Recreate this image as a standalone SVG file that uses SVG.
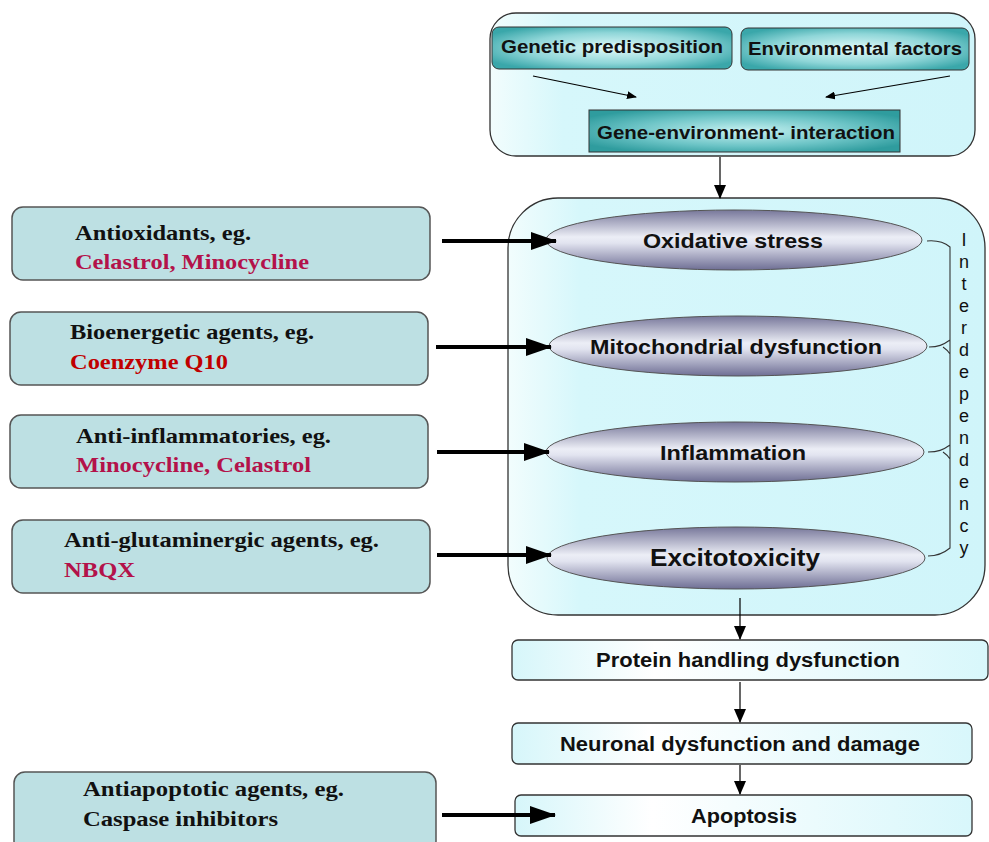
<svg xmlns="http://www.w3.org/2000/svg" width="989" height="842" viewBox="0 0 989 842">
<defs>
<linearGradient id="outerG" x1="0" y1="0" x2="1" y2="0">
<stop offset="0" stop-color="#f2fdfd"/><stop offset="0.15" stop-color="#d6f7fb"/><stop offset="1" stop-color="#d0f5fa"/>
</linearGradient>
<radialGradient id="tealG" cx="0.5" cy="0.5" r="0.6">
<stop offset="0" stop-color="#e2fafa"/><stop offset="0.6" stop-color="#8fd6d8"/><stop offset="1" stop-color="#3aa7aa"/>
</radialGradient>
<radialGradient id="tealG2" cx="0.5" cy="0.5" r="0.6">
<stop offset="0" stop-color="#c8f2f2"/><stop offset="0.6" stop-color="#6cc4c6"/><stop offset="1" stop-color="#2f9c9e"/>
</radialGradient>
<linearGradient id="ellG" x1="0" y1="0" x2="0" y2="1">
<stop offset="0" stop-color="#77779a"/><stop offset="0.45" stop-color="#eceef6"/><stop offset="0.55" stop-color="#e2e4f0"/><stop offset="1" stop-color="#6e6e94"/>
</linearGradient>
<linearGradient id="stepG" x1="0" y1="0" x2="1" y2="0">
<stop offset="0" stop-color="#d6f6fa"/><stop offset="0.3" stop-color="#ffffff"/><stop offset="1" stop-color="#d8f7fb"/>
</linearGradient>
<marker id="ah" markerWidth="10" markerHeight="8" refX="9" refY="4" orient="auto" markerUnits="userSpaceOnUse">
<path d="M0,0 L10,4 L0,8 Z" fill="#000"/>
</marker>
<marker id="ahBig" markerWidth="26" markerHeight="18" refX="25" refY="9" orient="auto" markerUnits="userSpaceOnUse">
<path d="M0,0 L26,9 L0,18 Z" fill="#000"/>
</marker>
<marker id="ahMid" markerWidth="14" markerHeight="12" refX="13" refY="6" orient="auto" markerUnits="userSpaceOnUse">
<path d="M0,0 L14,6 L0,12 Z" fill="#000"/>
</marker>
</defs>
<style>
.drug{fill:#bde0e3;stroke:#555;stroke-width:1.5}
.tb{font-family:"Liberation Serif","Times New Roman",serif;font-weight:bold;font-size:22px;fill:#111}
.red1{fill:#b3124a}
.red2{fill:#c00000}
.sb{font-family:"Liberation Sans",Arial,sans-serif;font-weight:bold;fill:#111}
.lt{font-family:"Liberation Sans",Arial,sans-serif;font-size:18px;fill:#111}
.ell{fill:url(#ellG);stroke:#555;stroke-width:1}
.step{fill:url(#stepG);stroke:#333;stroke-width:1.3}
.thin{stroke:#000;stroke-width:1.2;fill:none}
.thick{stroke:#000;stroke-width:4;fill:none}
</style>

<g id="top-box">
<rect x="490" y="13" width="485" height="143" rx="26" fill="url(#outerG)" stroke="#333" stroke-width="1.3"/>
</g>
<g id="genetic">
<rect x="492" y="27" width="240" height="42" rx="7" fill="url(#tealG)" stroke="#333" stroke-width="1"/>
<text class="sb" x="612" y="53" font-size="19" text-anchor="middle" textLength="222" lengthAdjust="spacingAndGlyphs">Genetic predisposition</text>
</g>
<g id="environmental">
<rect x="741" y="28" width="228" height="42" rx="7" fill="url(#tealG)" stroke="#333" stroke-width="1"/>
<text class="sb" x="855" y="55" font-size="19" text-anchor="middle" textLength="214" lengthAdjust="spacingAndGlyphs">Environmental factors</text>
</g>
<g id="gene-env">
<rect x="589" y="110" width="311" height="42" fill="url(#tealG2)" stroke="#333" stroke-width="1"/>
<text class="sb" x="746" y="139" font-size="19" text-anchor="middle" textLength="298" lengthAdjust="spacingAndGlyphs">Gene-environment- interaction</text>
</g>

<g id="mechanisms-box">
<rect x="508" y="198" width="477" height="417" rx="50" fill="url(#outerG)" stroke="#333" stroke-width="1.3"/>
</g>
<g id="oxidative">
<ellipse class="ell" cx="734" cy="240" rx="188" ry="30"/>
<text class="sb" x="733" y="248" font-size="20" text-anchor="middle" textLength="180" lengthAdjust="spacingAndGlyphs">Oxidative stress</text>
</g>
<g id="mitochondrial">
<ellipse class="ell" cx="738" cy="346" rx="189" ry="30"/>
<text class="sb" x="736" y="354" font-size="20" text-anchor="middle" textLength="292" lengthAdjust="spacingAndGlyphs">Mitochondrial dysfunction</text>
</g>
<g id="inflammation">
<ellipse class="ell" cx="735" cy="452" rx="189" ry="30"/>
<text class="sb" x="733" y="460" font-size="20" text-anchor="middle" textLength="146" lengthAdjust="spacingAndGlyphs">Inflammation</text>
</g>
<g id="excitotoxicity">
<ellipse class="ell" cx="736" cy="558" rx="189" ry="31"/>
<text class="sb" x="735" y="566" font-size="23" text-anchor="middle" textLength="170" lengthAdjust="spacingAndGlyphs">Excitotoxicity</text>
</g>
<g id="interdependency">
<path d="M927,241 C938,240 944,242 950,247 L950,548 C944,553 938,556 928,556 M929,347 C938,347 943,345 950,340 M943,347 C946,349 948,351 950,354 M928,452 C938,452 943,450 950,445 M943,452 C946,454 948,456 950,459" fill="none" stroke="#333" stroke-width="1.1"/>
<g class="lt" text-anchor="middle">
<text x="964" y="246">I</text><text x="964" y="268">n</text><text x="964" y="290">t</text><text x="964" y="312">e</text><text x="964" y="334">r</text><text x="964" y="356">d</text><text x="964" y="378">e</text><text x="964" y="400">p</text><text x="964" y="422">e</text><text x="964" y="444">n</text><text x="964" y="466">d</text><text x="964" y="488">e</text><text x="964" y="510">n</text><text x="964" y="532">c</text><text x="964" y="554">y</text>
</g>
</g>

<g id="protein">
<rect class="step" x="512" y="640" width="476" height="40" rx="6"/>
<text class="sb" x="748" y="667" font-size="20" text-anchor="middle" textLength="304" lengthAdjust="spacingAndGlyphs">Protein handling dysfunction</text>
</g>
<g id="neuronal">
<rect class="step" x="512" y="723" width="460" height="41" rx="6"/>
<text class="sb" x="740" y="751" font-size="20" text-anchor="middle" textLength="360" lengthAdjust="spacingAndGlyphs">Neuronal dysfunction and damage</text>
</g>
<g id="apoptosis">
<rect class="step" x="515" y="795" width="457" height="41" rx="6"/>
<text class="sb" x="744" y="823" font-size="20" text-anchor="middle" textLength="106" lengthAdjust="spacingAndGlyphs">Apoptosis</text>
</g>

<g id="antioxidants">
<rect class="drug" x="12" y="207" width="418" height="73" rx="11"/>
<text class="tb" x="75" y="240" textLength="176" lengthAdjust="spacingAndGlyphs">Antioxidants, eg.</text>
<text class="tb red1" x="75" y="269" textLength="234" lengthAdjust="spacingAndGlyphs">Celastrol, Minocycline</text>
</g>
<g id="bioenergetic">
<rect class="drug" x="10" y="312" width="418" height="73" rx="11"/>
<text class="tb" x="70" y="339" textLength="244" lengthAdjust="spacingAndGlyphs">Bioenergetic agents, eg.</text>
<text class="tb red2" x="70" y="369" textLength="158" lengthAdjust="spacingAndGlyphs">Coenzyme Q10</text>
</g>
<g id="antiinflammatories">
<rect class="drug" x="10" y="415" width="418" height="73" rx="11"/>
<text class="tb" x="76" y="443" textLength="255" lengthAdjust="spacingAndGlyphs">Anti-inflammatories, eg.</text>
<text class="tb red1" x="76" y="472" textLength="235" lengthAdjust="spacingAndGlyphs">Minocycline, Celastrol</text>
</g>
<g id="antiglutaminergic">
<rect class="drug" x="12" y="520" width="418" height="73" rx="11"/>
<text class="tb" x="64" y="547" textLength="315" lengthAdjust="spacingAndGlyphs">Anti-glutaminergic agents, eg.</text>
<text class="tb red1" x="64" y="577" textLength="71" lengthAdjust="spacingAndGlyphs">NBQX</text>
</g>
<g id="antiapoptotic">
<rect class="drug" x="14" y="772" width="422" height="80" rx="11"/>
<text class="tb" x="83" y="796" font-size="24" textLength="261" lengthAdjust="spacingAndGlyphs">Antiapoptotic agents, eg.</text>
<text class="tb" x="83" y="826" font-size="24" textLength="195" lengthAdjust="spacingAndGlyphs">Caspase inhibitors</text>
</g>

<g id="connectors">
<line class="thin" x1="533" y1="76" x2="636" y2="97" marker-end="url(#ah)"/>
<line class="thin" x1="950" y1="76" x2="826" y2="97" marker-end="url(#ah)"/>
<line class="thin" x1="720" y1="157" x2="720" y2="198" marker-end="url(#ahMid)"/>
<line class="thin" x1="740" y1="598" x2="740" y2="639" marker-end="url(#ahMid)"/>
<line class="thin" x1="740" y1="682" x2="740" y2="722" marker-end="url(#ahMid)"/>
<line class="thin" x1="740" y1="765" x2="740" y2="794" marker-end="url(#ahMid)"/>
<line class="thick" x1="442" y1="241" x2="556" y2="241" marker-end="url(#ahBig)"/>
<line class="thick" x1="436" y1="347" x2="551" y2="347" marker-end="url(#ahBig)"/>
<line class="thick" x1="437" y1="452" x2="549" y2="452" marker-end="url(#ahBig)"/>
<line class="thick" x1="437" y1="555" x2="551" y2="555" marker-end="url(#ahBig)"/>
<line class="thick" x1="442" y1="815" x2="555" y2="815" marker-end="url(#ahBig)"/>
</g>
</svg>
